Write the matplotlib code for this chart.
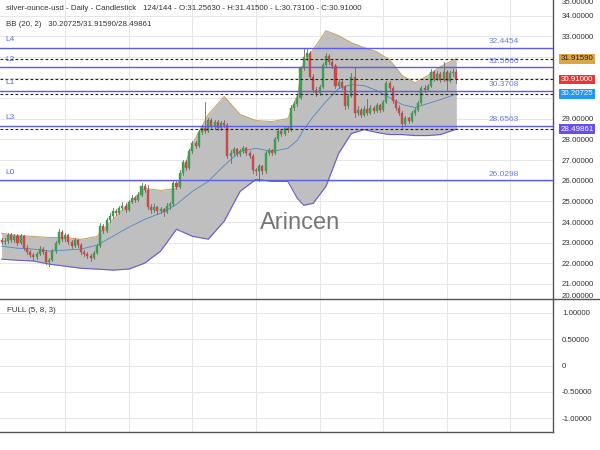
import matplotlib
matplotlib.use("Agg")
import matplotlib.pyplot as plt
from matplotlib.patches import Rectangle
from matplotlib.lines import Line2D

plt.rcParams['font.family'] = ['Liberation Sans', 'DejaVu Sans']

# ---------------- data ----------------
opens = [23.15, 23.05, 23.10, 23.35, 23.15, 23.30, 23.00, 23.30, 22.75, 22.55,
         22.40, 22.30, 22.45, 22.70, 22.55, 22.05, 22.15, 22.60, 23.00, 23.50,
         23.20, 23.35, 23.05, 22.85, 23.15, 22.90, 22.55, 22.45, 22.35, 22.25,
         22.50, 22.85, 23.80, 23.55, 24.10, 24.30, 24.55, 24.45, 24.70, 24.80,
         24.60, 24.95, 25.15, 25.05, 25.30, 25.75, 25.55, 24.75, 24.60, 24.75,
         24.55, 24.65, 24.50, 24.80, 24.85, 25.90, 25.70, 26.40, 26.90, 26.60,
         27.45, 27.85, 27.70, 28.35, 28.55, 28.40, 28.95, 28.65, 28.85, 28.55,
         28.80, 28.70, 27.20, 27.35, 27.55, 27.30, 27.45, 27.60, 27.35, 27.20,
         26.50, 26.45, 26.70, 26.45, 27.35, 27.50, 27.35, 28.00, 28.40, 28.25,
         28.55, 28.45, 29.55, 29.70, 30.00, 31.45, 32.00, 32.20, 31.05, 30.40,
         30.25, 30.55, 31.60, 32.05, 31.75, 31.55, 30.60, 30.80, 30.55, 29.60,
         30.10, 31.05, 29.30, 29.45, 29.20, 29.50, 29.30, 29.55, 29.40, 29.65,
         29.45, 29.80, 30.75, 30.50, 29.85, 29.55, 29.30, 28.75, 29.05, 28.90,
         29.30, 29.45, 29.75, 30.50, 30.40, 30.60, 31.25, 30.95, 31.15, 30.90,
         31.25, 30.85, 31.20, 31.2563]
highs = [23.25, 23.25, 23.45, 23.45, 23.40, 23.40, 23.40, 23.35, 22.90, 22.65,
         22.50, 22.55, 22.85, 22.80, 22.65, 22.25, 22.70, 23.10, 23.65, 23.60,
         23.45, 23.40, 23.15, 23.25, 23.20, 23.00, 22.65, 22.55, 22.45, 22.60,
         22.95, 23.95, 23.90, 24.20, 24.45, 24.70, 24.65, 24.80, 24.95, 24.90,
         25.05, 25.30, 25.25, 25.45, 25.90, 25.85, 25.80, 24.85, 24.85, 24.80,
         24.75, 24.70, 24.90, 24.95, 26.00, 26.05, 26.50, 27.00, 27.00, 27.55,
         27.95, 27.95, 28.45, 28.70, 29.80, 29.05, 29.05, 28.95, 28.95, 28.90,
         28.95, 28.80, 27.50, 27.65, 27.60, 27.55, 27.70, 27.65, 27.45, 27.30,
         26.60, 26.80, 26.75, 27.45, 27.60, 27.55, 28.10, 28.55, 28.50, 28.65,
         28.65, 29.65, 29.85, 30.15, 31.55, 32.45, 32.45, 32.30, 31.15, 30.55,
         30.65, 31.70, 32.20, 32.15, 31.85, 31.65, 30.95, 30.90, 30.65, 30.20,
         31.20, 31.45, 29.60, 29.55, 29.60, 29.95, 29.65, 29.60, 29.75, 29.70,
         29.90, 30.85, 30.85, 30.60, 29.95, 29.65, 29.40, 29.15, 29.10, 29.40,
         29.55, 29.85, 30.60, 30.65, 30.70, 31.40, 31.35, 31.30, 31.25, 31.75,
         31.35, 31.30, 31.40, 31.415]
lows = [22.95, 22.95, 23.00, 23.05, 23.05, 22.90, 22.95, 22.65, 22.45, 22.30,
        22.15, 22.20, 22.40, 22.45, 21.95, 21.85, 22.10, 22.50, 22.95, 23.10,
        23.10, 22.95, 22.75, 22.80, 22.80, 22.45, 22.35, 22.25, 22.10, 22.20,
        22.45, 22.80, 23.45, 23.50, 24.00, 24.20, 24.35, 24.40, 24.60, 24.50,
        24.55, 24.90, 24.95, 25.00, 25.25, 25.45, 24.65, 24.45, 24.50, 24.40,
        24.45, 24.30, 24.45, 24.65, 24.80, 25.60, 25.65, 26.30, 26.50, 26.55,
        27.35, 27.60, 27.65, 28.25, 28.30, 28.35, 28.55, 28.50, 28.45, 28.45,
        28.60, 27.10, 26.85, 27.25, 27.20, 27.20, 27.35, 27.25, 27.10, 26.40,
        26.30, 26.00, 26.35, 26.40, 27.25, 27.25, 27.30, 27.95, 28.15, 28.20,
        28.35, 28.40, 29.45, 29.60, 29.95, 31.35, 31.85, 30.95, 30.30, 30.10,
        30.15, 30.50, 31.50, 31.65, 31.45, 30.50, 30.50, 30.45, 29.50, 29.55,
        30.05, 29.10, 29.20, 29.10, 29.15, 29.20, 29.25, 29.30, 29.35, 29.35,
        29.40, 29.75, 30.40, 29.75, 29.45, 29.20, 28.55, 28.65, 28.80, 28.85,
        29.20, 29.40, 29.70, 30.30, 30.35, 30.55, 30.85, 30.90, 30.80, 30.85,
        30.40, 30.80, 31.10, 30.731]
closes = [23.05, 23.10, 23.35, 23.15, 23.30, 23.00, 23.30, 22.75, 22.55, 22.40,
          22.30, 22.45, 22.70, 22.55, 22.05, 22.15, 22.60, 23.00, 23.50, 23.20,
          23.35, 23.05, 22.85, 23.15, 22.90, 22.55, 22.45, 22.35, 22.25, 22.50,
          22.85, 23.80, 23.55, 24.10, 24.30, 24.55, 24.45, 24.70, 24.80, 24.60,
          24.95, 25.15, 25.05, 25.30, 25.75, 25.55, 24.75, 24.60, 24.75, 24.55,
          24.65, 24.50, 24.80, 24.85, 25.90, 25.70, 26.40, 26.90, 26.60, 27.45,
          27.85, 27.70, 28.35, 28.55, 28.40, 28.95, 28.65, 28.85, 28.55, 28.80,
          28.70, 27.20, 27.35, 27.55, 27.30, 27.45, 27.60, 27.35, 27.20, 26.50,
          26.45, 26.70, 26.45, 27.35, 27.50, 27.35, 28.00, 28.40, 28.25, 28.55,
          28.45, 29.55, 29.70, 30.00, 31.45, 32.00, 32.20, 31.05, 30.40, 30.25,
          30.55, 31.60, 32.05, 31.75, 31.55, 30.60, 30.80, 30.55, 29.60, 30.10,
          31.05, 29.30, 29.45, 29.20, 29.50, 29.30, 29.55, 29.40, 29.65, 29.45,
          29.80, 30.75, 30.50, 29.85, 29.55, 29.30, 28.75, 29.05, 28.90, 29.30,
          29.45, 29.75, 30.50, 30.40, 30.60, 31.25, 30.95, 31.15, 30.90, 31.25,
          30.85, 31.20, 31.26, 30.91]

# Bollinger band readings (candle index -> price)
bb_idx = [0, 5, 10, 15, 20, 25, 30, 35, 40, 45, 50, 55, 60, 65, 70, 75, 80, 85,
          90, 93, 95, 98, 102, 106, 110, 114, 118, 122, 126, 130, 134, 138, 143]
bb_upper = [23.45, 23.35, 23.30, 23.25, 23.25, 23.16, 23.30, 24.12, 24.90, 25.63,
            25.53, 25.63, 27.77, 29.21, 30.08, 29.21, 28.92, 28.87, 29.01, 30.13,
            31.77, 32.35, 33.27, 33.03, 32.69, 32.45, 32.25, 31.86, 31.09, 30.75,
            31.09, 31.53, 31.9159]
bb_mid = [22.83, 22.73, 22.69, 22.59, 22.64, 22.69, 22.88, 23.31, 23.75, 24.13,
          24.43, 24.86, 25.49, 25.97, 26.74, 27.42, 27.57, 27.42, 27.57, 27.96,
          28.48, 29.11, 29.84, 30.47, 30.66, 30.61, 30.37, 30.03, 29.69, 29.55,
          29.74, 29.93, 30.20725]
bb_lower = [22.20, 22.15, 22.11, 21.96, 21.86, 21.76, 21.72, 21.67, 21.72, 22.01,
            22.59, 23.65, 23.31, 23.17, 24.04, 25.49, 26.07, 25.97, 25.97, 25.15,
            24.81, 24.91, 25.73, 27.33, 28.29, 28.48, 28.34, 28.24, 28.24, 28.19,
            28.19, 28.24, 28.49861]

level_names = ['L4', 'L2', 'L1', 'L3', 'L0']
level_values = [32.4454, 31.5060, 30.3708, 28.6563, 26.0298]
level_labels = ['32.4454', '31.5060', '30.3708', '28.6563', '26.0298']

tag_values = [31.91590, 30.91000, 30.20725, 28.49861]
tag_labels = ['31.91590', '30.91000', '30.20725', '28.49861']
tag_colors = ['#dba64a', '#e53935', '#2196f3', '#6a4cf0']
tag_text_colors = ['#222222', 'white', 'white', 'white']

main_ticks = list(range(21, 35))
# labels hidden behind the price tags (30, 31, 32) are left blank
main_tick_labels = ['21.00000', '22.00000', '23.00000', '24.00000', '25.00000',
                    '26.00000', '27.00000', '28.00000', '29.00000', '', '', '',
                    '33.00000', '34.00000']
osc_ticks = [1.0, 0.5, 0.0, -0.5, -1.0]
osc_tick_labels = ['1.00000', '0.50000', '0', '-0.50000', '-1.00000']

header1 = ("silver-ounce-usd - Daily - Candlestick   124/144 - O:31.25630 - "
           "H:31.41500 - L:30.73100 - C:30.91000")
header2 = "BB (20, 2)   30.20725/31.91590/28.49861"

# ---------------- figure ----------------
W, H = 600, 450
fig = plt.figure(figsize=(6, 4.5), dpi=100)
ax = fig.add_axes([0, (H - 299) / H, 553 / W, 299 / H])
ax2 = fig.add_axes([0, (H - 432) / H, 553 / W, 133 / H])

xmin, xmax = -0.5, 173.4
grid_c = '#e6e6e6'
spine_c = '#555555'
fs = 5.7

# main panel
ax.set_xlim(xmin, xmax)
ax.set_ylim(20.27, 34.76)
for gx in range(20, 180, 20):
    ax.axvline(gx, color=grid_c, lw=0.7, zorder=0)
    ax2.axvline(gx, color=grid_c, lw=0.7, zorder=0)
for gy in main_ticks:
    ax.axhline(gy, color=grid_c, lw=0.7, zorder=0)

# bollinger
ax.fill_between(bb_idx, bb_lower, bb_upper, color='#bfbfbf', zorder=1, lw=0)
ax.plot(bb_idx, bb_upper, color='#c9a56a', lw=0.8, zorder=2)
ax.plot(bb_idx, bb_lower, color='#6a5ad8', lw=0.8, zorder=2)
ax.plot(bb_idx, bb_mid, color='#4f86c6', lw=0.6, zorder=2)

# candles
up_c, dn_c = '#3e9e50', '#c94848'
for i, (o, h, l, c) in enumerate(zip(opens, highs, lows, closes)):
    col = up_c if c >= o else dn_c
    ax.add_line(Line2D([i, i], [l, h], color='#6a6a6a', lw=0.6, zorder=3))
    lo = min(o, c)
    hgt = max(abs(c - o), 0.03)
    ax.add_patch(Rectangle((i - 0.32, lo), 0.64, hgt, facecolor=col,
                           edgecolor=col, lw=0.3, zorder=4))

# level lines
lvl_c = '#5c5ce6'
for name, v, lab in zip(level_names, level_values, level_labels):
    ax.axhline(v, color=lvl_c, lw=1.0, zorder=5)
    ax.annotate(name, (0, v), xycoords=('axes fraction', 'data'),
                xytext=(4, 5.8), textcoords='offset points', fontsize=6,
                color='#5a6fe0', va='center', ha='left', zorder=6)
    ax.annotate(lab, (504 / 553, v), xycoords=('axes fraction', 'data'),
                xytext=(0, 4.3), textcoords='offset points', fontsize=6,
                color='#6a7de0', va='center', ha='center', zorder=6)

# dashed current-value lines
for v in tag_values:
    ax.axhline(v, color='#222222', lw=0.8, ls=(0, (2.5, 2)), zorder=5)

# watermark
ax.text(300 / 553, (299 - 223) / 299, 'Arincen', transform=ax.transAxes,
        fontsize=17, color='#777777', ha='center', va='center', zorder=7)

# axes styling
for s in ['left', 'top', 'bottom']:
    ax.spines[s].set_visible(False)
ax.spines['right'].set_color(spine_c)
ax.spines['right'].set_linewidth(1.0)
ax.set_xticks([])
ax.yaxis.tick_right()
ax.set_yticks(main_ticks)
ax.set_yticklabels(main_tick_labels)
ax.tick_params(axis='y', length=0, pad=6.5, labelsize=fs, labelcolor='#333333')

# price tags
for v, lab, bc, tc in zip(tag_values, tag_labels, tag_colors, tag_text_colors):
    ax.annotate(lab, (1.0, v), xycoords=('axes fraction', 'data'),
                xytext=(5.6, 0), textcoords='offset points', fontsize=fs,
                color=tc, va='center', ha='left', annotation_clip=False,
                bbox=dict(boxstyle='square,pad=0.18', fc=bc, ec='none'), zorder=10)

# clamped edge labels
fig.text(562 / W, 1 - 2 / H, '35.00000', fontsize=fs, color='#333333',
         va='center', ha='left')
fig.text(562 / W, 1 - 297 / H, '20.00000', fontsize=fs, color='#333333',
         va='center', ha='left')

# header text
fig.text(6 / W, 1 - 8 / H, header1, fontsize=fs, color='#333333', va='center')
fig.text(6 / W, 1 - 25 / H, header2, fontsize=fs, color='#333333', va='center')

# oscillator panel
ax2.set_xlim(xmin, xmax)
ax2.set_ylim(-1.26, 1.26)
for gy in osc_ticks:
    ax2.axhline(gy, color=grid_c, lw=0.7, zorder=0)
ax2.spines['left'].set_visible(False)
for s in ['right', 'bottom', 'top']:
    ax2.spines[s].set_color(spine_c)
    ax2.spines[s].set_linewidth(1.0)
ax2.set_xticks([])
ax2.yaxis.tick_right()
ax2.set_yticks(osc_ticks)
ax2.set_yticklabels(osc_tick_labels)
ax2.tick_params(axis='y', length=0, pad=6.5, labelsize=fs, labelcolor='#333333')
ax2.text(7 / 553, 1 - 12 / 133, 'FULL (5, 8, 3)', transform=ax2.transAxes,
         fontsize=fs, color='#333333', va='center', ha='left')

# separator extending to the right edge
fig.add_artist(Line2D([553 / W, 1], [1 - 299 / H, 1 - 299 / H],
                      color=spine_c, lw=1.0, transform=fig.transFigure))

fig.savefig('out.png', dpi=100, facecolor='white')
